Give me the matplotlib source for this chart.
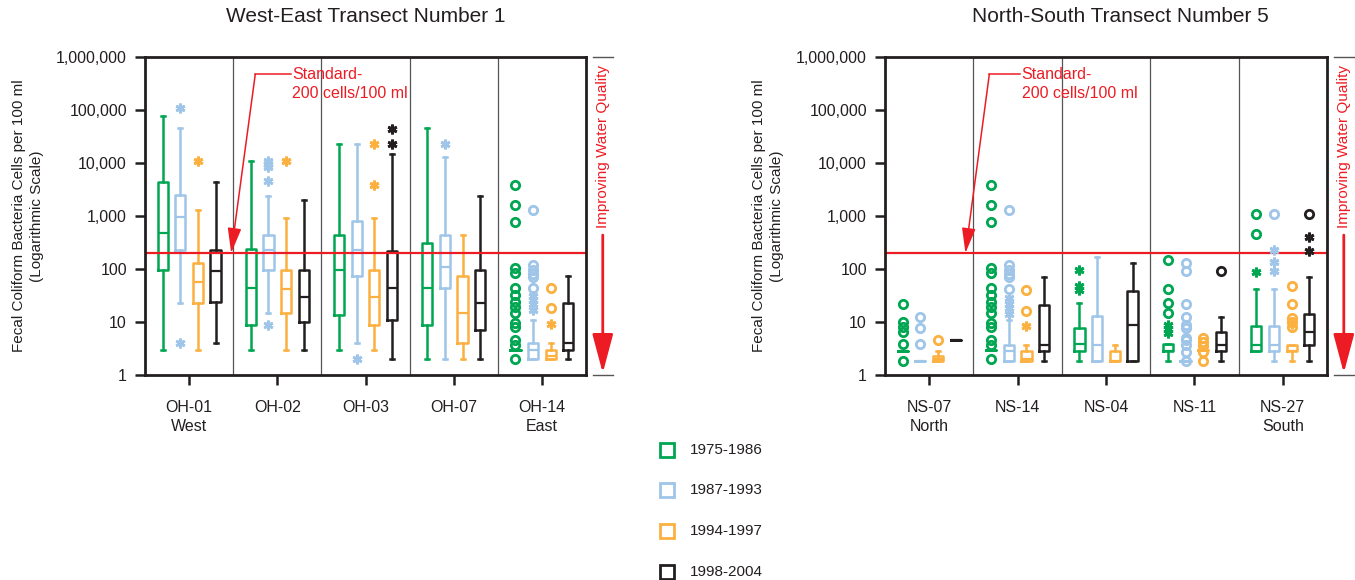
import matplotlib
matplotlib.use("Agg")
import matplotlib.pyplot as plt
from matplotlib.lines import Line2D
from matplotlib.ticker import FixedLocator, NullLocator

plt.rcParams['font.family'] = ['Liberation Sans', 'DejaVu Sans']

# colours per period
periods = ['1975-1986', '1987-1993', '1994-1997', '1998-2004']
colors = ['#00a651', '#9fc5e8', '#fbb040', '#231f20']
red = '#ed1c24'

# ---- West-East transect (values per site: [green, lightblue, orange, black])
left_sites = ['OH-01\nWest', 'OH-02', 'OH-03', 'OH-07', 'OH-14\nEast']
left_whislo = [[3, 23, 3, 4], [3, 15, 3, 3], [3, 4, 3, 2], [2, 2, 2, 2], [3, 2, 2, 2]]
left_q1 = [[94, 230, 23, 24], [8.8, 94, 15, 9.8], [13.6, 74, 8.8, 11], [8.8, 43, 4, 7], [3, 2, 2, 3]]
left_med = [[470, 940, 57, 91], [44, 230, 42, 30], [94, 230, 30, 43], [43, 110, 15, 23], [3, 3, 2.3, 4]]
left_q3 = [[4300, 2450, 130, 230], [240, 440, 94, 94], [430, 790, 94, 215], [310, 430, 74, 94], [3, 4, 3, 23]]
left_whishi = [[76000, 46000, 1300, 4300], [11000, 2400, 920, 2000], [23000, 23000, 920, 15000],
               [45000, 13000, 430, 2400], [3, 11, 4, 74]]
left_stars = [[[], [110000, 4], [11000], []],
              [[], [11000, 9500, 8500, 4500, 8.8], [11000], []],
              [[], [2], [23000, 3900], [43000, 23000]],
              [[], [23000], [], []],
              [[], [31, 26, 22, 17], [9], []]]
left_circles = [[[], [], [], []],
                [[], [], [], []],
                [[], [], [], []],
                [[], [], [], []],
                [[3900, 1590, 760, 104, 84, 44, 32, 24, 19.5, 14.7, 9.5, 8.2, 4.6, 3.7, 2],
                 [1300, 120, 97, 81, 70, 44], [44, 18], []]]

# ---- North-South transect
right_sites = ['NS-07\nNorth', 'NS-14', 'NS-04', 'NS-11', 'NS-27\nSouth']
right_whislo = [[2.8, 1.8, 1.8, 4.6], [3, 1.8, 1.8, 1.8], [1.8, 1.8, 1.8, 1.8], [1.8, 1.8, 3, 1.8], [2.8, 1.8, 1.8, 1.8]]
right_q1 = [[2.8, 1.8, 1.8, 4.6], [3, 1.8, 1.8, 2.8], [2.8, 1.8, 1.8, 1.8], [2.8, 1.8, 3, 2.8], [2.8, 2.8, 2.8, 3.7]]
right_med = [[2.8, 1.8, 2, 4.6], [3, 2.8, 2, 3.7], [3.9, 3.7, 1.8, 8.8], [2.8, 1.8, 3, 3.7], [3.7, 3.7, 2.8, 6.6]]
right_q3 = [[2.8, 1.8, 2.3, 4.6], [3, 3.7, 2.8, 21], [7.6, 13, 2.8, 38], [3.8, 1.8, 3, 6.6], [8.4, 8.4, 3.7, 14]]
right_whishi = [[2.8, 1.8, 2.8, 4.6], [3, 11, 3.7, 72], [23, 167, 3.7, 130], [3.8, 1.8, 3, 12.6], [42, 42, 3.7, 72]]
right_stars = [[[], [], [], []],
               [[], [28, 22, 18, 14], [8.5], []],
               [[97, 47, 40], [], [], []],
               [[8.8, 7.5, 6.2], [], [], []],
               [[87], [230, 135, 90], [9], [410, 215]]]
right_circles = [[[22, 9.8, 8.2, 6.6, 3.9, 1.8], [12.6, 7.6, 3.9], [4.6], []],
                 [[3900, 1590, 760, 104, 84, 44, 32, 24, 19.5, 14.7, 9.5, 8.2, 4.6, 3.7, 2],
                  [1300, 120, 97, 81, 70, 42], [40, 16], []],
                 [[], [], [], []],
                 [[150, 42, 23, 15], [130, 90, 22, 12.6, 8.8, 7.6, 4.9, 4.6, 3.7, 2.7, 1.8],
                  [4.9, 4.2, 3.5, 2.7, 1.8], [90]],
                 [[1090, 455], [1090], [48, 22, 12, 10, 8.2], [1090]]]

ytick_vals = [1, 10, 100, 1000, 10000, 100000, 1000000]
ytick_labels = ['1', '10', '100', '1,000', '10,000', '100,000', '1,000,000']
standard = 200
offsets = [-0.3, -0.1, 0.1, 0.3]


def draw_panel(ax, sites, whislo, q1, med, q3, whishi, stars, circles,
               title_x, title, arrow_pts):
    for g in range(len(sites)):
        for p in range(4):
            x = g + offsets[p]
            c = colors[p]
            st = [dict(whislo=whislo[g][p], q1=q1[g][p], med=med[g][p],
                       q3=q3[g][p], whishi=whishi[g][p], fliers=[])]
            ax.bxp(st, positions=[x], widths=0.115, capwidths=0.045,
                   showfliers=False, manage_ticks=False,
                   boxprops=dict(color=c, lw=1.8),
                   medianprops=dict(color=c, lw=1.6),
                   whiskerprops=dict(color=c, lw=1.8),
                   capprops=dict(color=c, lw=1.8))
            if circles[g][p]:
                ax.plot([x] * len(circles[g][p]), circles[g][p], ls='none', marker='o',
                        ms=6, mfc='none', mec=c, mew=2, zorder=4)
            if stars[g][p]:
                ax.plot([x] * len(stars[g][p]), stars[g][p], ls='none', marker=(6, 2, 0),
                        ms=7, mec=c, mew=2, zorder=4)

    ax.set_yscale('log')
    ax.set_ylim(1, 1e6)
    ax.set_xlim(-0.5, len(sites) - 0.5)
    ax.yaxis.set_major_locator(FixedLocator(ytick_vals))
    ax.yaxis.set_minor_locator(NullLocator())
    ax.set_yticklabels(ytick_labels)
    ax.set_xticks(range(len(sites)))
    ax.set_xticklabels(sites, linespacing=1.3)
    ax.tick_params(axis='both', direction='out', length=7, width=1.8,
                   labelsize=11.5, colors='#231f20', pad=6)
    ax.tick_params(axis='x', pad=11)
    for s in ax.spines.values():
        s.set_linewidth(2)
        s.set_color('#231f20')
    for b in range(1, len(sites)):
        ax.axvline(b - 0.5, color='#555555', lw=0.9, zorder=1)
    ax.axhline(standard, color=red, lw=1.6, zorder=2)
    ax.set_ylabel('Fecal Coliform Bacteria Cells per 100 ml\n(Logarithmic Scale)',
                  fontsize=11, color='#231f20', linespacing=1.3, labelpad=9)

    # Standard annotation
    tx, cx, tipx = arrow_pts
    ytext = 4.7e5
    ax.plot([tx - 0.02, cx], [ytext, ytext], color=red, lw=1.1, zorder=5)
    ax.annotate('', xy=(tipx, standard), xytext=(cx, ytext),
                arrowprops=dict(arrowstyle='-|>,head_length=1.1,head_width=0.3',
                                color=red, lw=1.1, mutation_scale=14,
                                shrinkA=0, shrinkB=0), zorder=5)
    ax.text(tx, 10 ** 5.49, 'Standard-\n200 cells/100 ml', color=red, fontsize=11.5,
            va='center', ha='left', linespacing=1.3)

    # Improving water quality bracket
    ax.plot([1.016, 1.061], [1, 1], transform=ax.transAxes, color='#555555', lw=1, clip_on=False)
    ax.plot([1.016, 1.061], [0, 0], transform=ax.transAxes, color='#555555', lw=1, clip_on=False)
    ax.text(1.038, 0.72, 'Improving Water Quality', transform=ax.transAxes, rotation=90,
            color=red, fontsize=11, ha='center', va='center')
    ax.annotate('', xy=(1.038, 0.006), xycoords='axes fraction',
                xytext=(1.038, 0.44), textcoords='axes fraction',
                arrowprops=dict(arrowstyle='-|>,head_length=1.2,head_width=0.32',
                                color=red, lw=2, mutation_scale=20,
                                shrinkA=0, shrinkB=0))

    ax.figure.text(title_x, 1 - 17 / 580, title, fontsize=15, color='#231f20',
                   ha='center', va='center')


fig = plt.figure(figsize=(13.55, 5.8), dpi=100)
ax1 = fig.add_axes([145 / 1355, 1 - 375 / 580, 441 / 1355, 318 / 580])
ax2 = fig.add_axes([885 / 1355, 1 - 375 / 580, 442 / 1355, 318 / 580])

draw_panel(ax1, left_sites, left_whislo, left_q1, left_med, left_q3, left_whishi,
           left_stars, left_circles, 366 / 1355, 'West-East Transect Number 1',
           (1.17, 0.75, 0.477))
draw_panel(ax2, right_sites, right_whislo, right_q1, right_med, right_q3, right_whishi,
           right_stars, right_circles, 1120 / 1355, 'North-South Transect Number 5',
           (1.045, 0.68, 0.41))

# legend
leg_y = [450, 490, 531, 572]
for lab, c, yy in zip(periods, colors, leg_y):
    fig.add_artist(Line2D([667 / 1355], [1 - yy / 580], marker='s', ms=9.5, mfc='none',
                          mec=c, mew=2, ls='none', transform=fig.transFigure))
    fig.text(690 / 1355, 1 - yy / 580, lab, fontsize=11, color='#231f20', va='center')

fig.savefig('out.png', dpi=100)
